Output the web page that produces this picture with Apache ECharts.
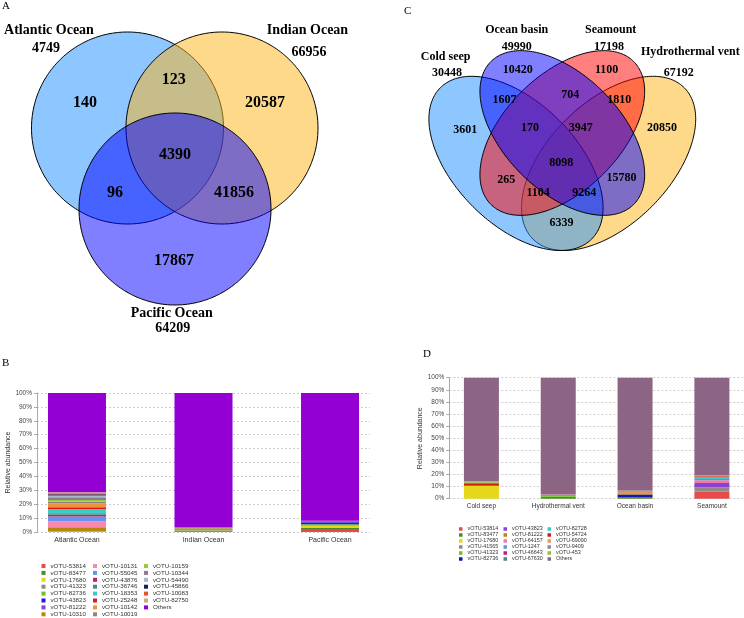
<!DOCTYPE html>
<html><head><meta charset="utf-8">
<script src="https://cdn.jsdelivr.net/npm/echarts@6/dist/echarts.min.js"></script>
<style>html,body{margin:0;padding:0;background:#fff}#c{width:744px;height:618px}</style>
</head><body><div id="c"></div>
<script>
// ================= DATA =================
// Panel A: Venn of oceans
const vennASets = ['Atlantic Ocean', 'Indian Ocean', 'Pacific Ocean'];
const vennATotals = [4749, 66956, 64209];
// regions: A only, A∩I, I only, A∩I∩P, A∩P, I∩P, P only
const vennARegionCounts = [140, 123, 20587, 4390, 96, 41856, 17867];

// Panel C: Venn of habitats
const vennCSets = ['Cold seep', 'Ocean basin', 'Seamount', 'Hydrothermal vent'];
const vennCTotals = [30448, 49990, 17198, 67192];
const vennCRegionCounts = [3601, 10420, 1100, 20850, 1607, 704, 1810, 170, 3947, 8098, 265, 15780, 1104, 9264, 6339];

// Panel B: stacked relative abundance by ocean
const oceanCategories = ['Atlantic Ocean', 'Indian Ocean', 'Pacific Ocean'];
const oceanOtus = ['vOTU-53814','vOTU-83477','vOTU-17680','vOTU-41323','vOTU-82736','vOTU-43823','vOTU-81222','vOTU-10310',
  'vOTU-10131','vOTU-55045','vOTU-43876','vOTU-36746','vOTU-18353','vOTU-25248','vOTU-10142','vOTU-10019',
  'vOTU-10159','vOTU-10344','vOTU-54490','vOTU-45866','vOTU-10083','vOTU-82750','Others'];
// values in % for [Atlantic, Indian, Pacific]
const oceanValues = [
  [0.1, 0.2, 2.2], [0.1, 0.8, 0.7], [0.1, 0.2, 1.4], [0.1, 0.3, 0.3], [0.1, 0.8, 1.0], [0.1, 0.1, 1.4], [0.1, 0.1, 0.5], [2.8, 0.3, 0.1],
  [4.3, 0, 0], [3.3, 0, 0], [1.4, 0, 0], [1.0, 0, 0], [2.9, 0, 0], [1.4, 0, 0.5], [2.9, 0, 0], [1.0, 0, 0],
  [1.4, 0.4, 0], [1.9, 0, 0], [1.2, 0, 0], [1.0, 0, 0], [0.7, 0, 0], [0.7, 0, 0], [71.4, 96.8, 91.9]
];

// Panel D: stacked relative abundance by habitat
const habitatCategories = ['Cold seep', 'Hydrothermal vent', 'Ocean basin', 'Seamount'];
const habitatOtus = ['vOTU-53814','vOTU-83477','vOTU-17680','vOTU-41565','vOTU-41323','vOTU-82736',
  'vOTU-43823','vOTU-81222','vOTU-64157','vOTU-1247','vOTU-46643','vOTU-67630',
  'vOTU-82728','vOTU-54724','vOTU-69090','vOTU-9409','vOTU-453','Others'];
// values in % for [Cold seep, Hydrothermal vent, Ocean basin, Seamount]
const habitatValues = [
  [0, 0, 0, 6.0], [0, 1.6, 1.0, 0], [10.5, 0, 0, 0], [0.2, 0, 0, 3.4], [0, 1.4, 0, 0], [0, 0, 2.4, 0],
  [0, 0, 0, 3.6], [0, 0, 1.1, 0], [0, 0.5, 0, 2.2], [0, 0, 0, 1.1], [0, 0, 0, 0], [0, 0, 0, 0],
  [0, 0, 0, 1.4], [2.0, 0, 0, 0.8], [0, 0, 1.2, 1.1], [0.5, 0, 1.1, 0], [1.3, 0, 0, 0], [85.5, 96.5, 93.2, 80.4]
];

// ================= STYLE / LAYOUT =================
const oceanColors = ['#E64A4A','#4E8A25','#E5D81A','#8C8C84','#6DC21E','#1B1BE6','#8D3FD8','#B8860B',
  '#F788B0','#6495ED','#C21E6E','#4F8585','#36D1C4','#E01818','#F0923A','#888888',
  '#9CC83C','#8E7A8E','#A4BCCB','#1C1C5C','#F0501E','#D4A77A','#9400D3'];
const habitatColors = ['#E64A4A','#4E8A25','#E5D81A','#8C8C84','#6DC21E','#1515C0',
  '#8D3FD8','#B8860B','#F07AA8','#6A8FE0','#C0207A','#4F8585',
  '#36CCCC','#D01E1E','#E8945A','#8A8A8A','#9CBC3C','#8C6585'];

const SERIF = '"Liberation Serif", "Times New Roman", serif';
const SANS = '"Liberation Sans", Arial, sans-serif';

// Venn A geometry (units = px of panel)
const vennAShapes = [
  {cx: 127.5, cy: 128, a: 96, b: 96, rot: 0, fill: 'rgba(30,144,255,0.5)'},
  {cx: 222, cy: 128, a: 96, b: 96, rot: 0, fill: 'rgba(255,180,22,0.5)'},
  {cx: 175, cy: 209, a: 96, b: 96, rot: 0, fill: 'rgba(0,0,255,0.5)'}
];
const vennARegionPos = [[85,103],[173.7,80],[265,103],[175,155],[115,193],[234,193],[174,261]];
const vennASetPos = [[49,30],[307.5,30],[171.7,313]];
const vennATotalPos = [[46,48],[309,52],[172.7,328]];

// Venn C geometry (draw order: Hydrothermal, Cold seep, Seamount, Ocean basin)
const vennCShapes = [
  {cx: 236.6, cy: 163.4, a: 107, b: 61, rot: -45, fill: 'rgba(255,180,22,0.5)'},
  {cx: 144, cy: 163.4, a: 107, b: 61, rot: 45, fill: 'rgba(30,144,255,0.5)'},
  {cx: 190.3, cy: 133, a: 101, b: 58, rot: -45, fill: 'rgba(255,0,0,0.5)'},
  {cx: 190.3, cy: 133, a: 101, b: 58, rot: 45, fill: 'rgba(0,0,255,0.5)'}
];
const vennCRegionPos = [[93.3,130],[145.8,70],[234.7,70],[290,127.7],[132.5,100],[198.3,95],[247.2,100],[158,127.7],
  [208.7,127.7],[189.2,163.3],[134.2,180],[249.5,178.3],[166.2,192.7],[212.2,192.7],[189.5,222.7]];
const vennCSetPos = [[73.7,56.7],[144.7,30],[238.7,30],[318.3,52.3]];
const vennCTotalPos = [[75,73.3],[144.7,46.7],[237,46.7],[306.7,73.3]];

function shapeSeries(gi, shapes) {
  return {
    type: 'custom', coordinateSystem: 'cartesian2d', xAxisIndex: gi, yAxisIndex: gi,
    silent: true, clip: false, z: 1, animation: false,
    data: shapes.map((s, i) => i),
    renderItem(params, api) {
      const s = shapes[params.dataIndex];
      const th = s.rot * Math.PI / 180, pts = [];
      for (let k = 0; k < 240; k++) {
        const t = 2 * Math.PI * k / 240;
        const lx = s.a * Math.cos(t), ly = s.b * Math.sin(t);
        pts.push(api.coord([s.cx + lx * Math.cos(th) - ly * Math.sin(th), s.cy + lx * Math.sin(th) + ly * Math.cos(th)]));
      }
      return {type: 'polygon', shape: {points: pts}, style: {fill: s.fill, stroke: '#000', lineWidth: 1}};
    }
  };
}
function textSeries(gi, labels, pos, font) {
  return {
    type: 'custom', coordinateSystem: 'cartesian2d', xAxisIndex: gi, yAxisIndex: gi,
    silent: true, clip: false, z: 5, animation: false,
    data: labels.map((l, i) => i),
    renderItem(params, api) {
      const p = api.coord(pos[params.dataIndex]);
      return {type: 'text', x: p[0], y: p[1], style: {text: String(labels[params.dataIndex]), font: font, fill: '#000', align: 'center', verticalAlign: 'middle'}};
    }
  };
}

function barAxisY(gi, title) {
  return {
    gridIndex: gi, type: 'value', min: 0, max: 100, interval: 10,
    name: title, nameLocation: 'middle', nameGap: 22,
    nameTextStyle: {fontFamily: SANS, fontSize: 7, color: '#333'},
    axisLine: {show: true, onZero: false, lineStyle: {color: '#aaa', width: 1}},
    axisTick: {show: true, length: 3, lineStyle: {color: '#aaa'}},
    axisLabel: {formatter: '{value}%', fontFamily: SANS, fontSize: 6.5, color: '#444', margin: 5},
    splitLine: {show: true, lineStyle: {color: '#ccc', type: [2, 2], width: 1}}
  };
}
function barAxisX(gi, cats, min, max, fs, margin) {
  return {
    gridIndex: gi, type: 'value', min: min, max: max,
    axisLine: {show: false, onZero: false}, axisTick: {show: false}, splitLine: {show: false},
    axisLabel: {customValues: cats.map((c, i) => i), formatter: v => cats[Math.round(v)], fontFamily: SANS, fontSize: fs, color: '#333', margin: margin}
  };
}

const series = [];
series.push(shapeSeries(0, vennAShapes));
series.push(textSeries(0, vennARegionCounts, vennARegionPos, 'bold 16px ' + SERIF));
series.push(textSeries(0, vennASets, vennASetPos, 'bold 14px ' + SERIF));
series.push(textSeries(0, vennATotals, vennATotalPos, 'bold 14px ' + SERIF));
series.push(shapeSeries(1, vennCShapes));
series.push(textSeries(1, vennCRegionCounts, vennCRegionPos, 'bold 12px ' + SERIF));
series.push(textSeries(1, vennCSets, vennCSetPos, 'bold 12px ' + SERIF));
series.push(textSeries(1, vennCTotals, vennCTotalPos, 'bold 12px ' + SERIF));

// data rows are [value, categoryIndex]; encode maps them to y / x so the stack runs on the value
oceanOtus.forEach((n, j) => series.push({
  type: 'bar', name: 'B|' + n, stack: 'B', xAxisIndex: 2, yAxisIndex: 2, barWidth: 58,
  itemStyle: {color: oceanColors[j]}, animation: false,
  encode: {x: 1, y: 0},
  data: oceanValues[j].map((v, i) => [v, i])
}));
habitatOtus.forEach((n, j) => series.push({
  type: 'bar', name: 'D|' + n, stack: 'D', xAxisIndex: 3, yAxisIndex: 3, barWidth: 35,
  itemStyle: {color: habitatColors[j]}, animation: false,
  encode: {x: 1, y: 0},
  data: habitatValues[j].map((v, i) => [v, i])
}));

function legendCol(names, prefix, left, top, icon, fs, gap) {
  return {
    orient: 'vertical', left: left, top: top, height: 90, padding: 0, itemGap: gap,
    itemWidth: icon, itemHeight: icon, icon: 'rect', selectedMode: false,
    data: names.map(n => prefix + n),
    formatter: n => n.split('|')[1],
    textStyle: {fontFamily: SANS, fontSize: fs, color: '#333'}
  };
}
const legends = [
  legendCol(oceanOtus.slice(0, 8), 'B|', 41.5, 563, 4, 6.2, 0.9),
  legendCol(oceanOtus.slice(8, 16), 'B|', 93, 563, 4, 6.2, 0.9),
  legendCol(oceanOtus.slice(16), 'B|', 144, 563, 4, 6.2, 0.9),
  legendCol(habitatOtus.slice(0, 6), 'D|', 459, 526.5, 3.5, 5.4, 1.0),
  legendCol(habitatOtus.slice(6, 12), 'D|', 503.5, 526.5, 3.5, 5.4, 1.0),
  legendCol(habitatOtus.slice(12), 'D|', 547.5, 526.5, 3.5, 5.4, 1.0)
];

const hiddenX = (gi, max) => ({gridIndex: gi, type: 'value', min: 0, max: max, show: false});
const hiddenY = (gi, max) => ({gridIndex: gi, type: 'value', min: 0, max: max, inverse: true, show: false});

const option = {
  backgroundColor: '#fff',
  animation: false,
  grid: [
    {left: 0, top: 0, width: 372, height: 340},
    {left: 372, top: 0, width: 372, height: 340},
    {left: 37, top: 393, width: 333, height: 139},
    {left: 449.3, top: 377.7, width: 298, height: 121}
  ],
  xAxis: [hiddenX(0, 372), hiddenX(1, 372),
    barAxisX(2, oceanCategories, -0.316, 2.316, 7, 5),
    barAxisX(3, habitatCategories, -0.418, 3.418, 6.5, 4)],
  yAxis: [hiddenY(0, 340), hiddenY(1, 340),
    barAxisY(2, 'Relative abundance'),
    barAxisY(3, 'Relative abundance')],
  legend: legends,
  graphic: [
    {type: 'text', left: 2, top: 1, style: {text: 'A', font: '11px ' + SERIF, fill: '#000'}},
    {type: 'text', left: 2, top: 358, style: {text: 'B', font: '11px ' + SERIF, fill: '#000'}},
    {type: 'text', left: 404, top: 6, style: {text: 'C', font: '11px ' + SERIF, fill: '#000'}},
    {type: 'text', left: 423, top: 349, style: {text: 'D', font: '11px ' + SERIF, fill: '#000'}}
  ],
  series: series
};
const chart = echarts.init(document.getElementById('c'), null, {renderer: 'canvas'});
chart.setOption(option);
</script>
</body></html>
